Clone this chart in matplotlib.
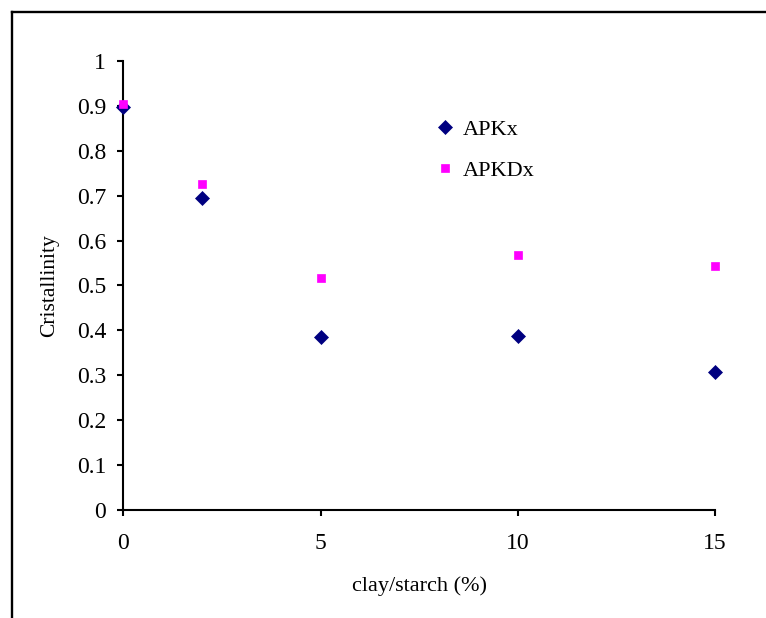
import matplotlib
matplotlib.use("Agg")
import matplotlib.pyplot as plt
from matplotlib.lines import Line2D

# data
clay = [0, 2, 5, 10, 15]
apkx = [0.897, 0.694, 0.386, 0.387, 0.307]
apkdx = [0.904, 0.725, 0.516, 0.569, 0.543]
series_names = ["APKx", "APKDx"]
yticks = [0, 0.1, 0.2, 0.3, 0.4, 0.5, 0.6, 0.7, 0.8, 0.9, 1]
ytick_labels = ["0", "0.1", "0.2", "0.3", "0.4", "0.5", "0.6", "0.7", "0.8", "0.9", "1"]
xticks = [0, 5, 10, 15]

plt.rcParams["font.family"] = ["Liberation Serif", "DejaVu Serif"]

fig = plt.figure(figsize=(7.66, 6.18), dpi=100)
ax = fig.add_axes([0.1612, 0.1748, 0.7722, 0.7265])

ax.plot(clay, apkx, "D", ms=7, color="#000080", mec="#000080", mew=0.5,
        label=series_names[0], zorder=3, clip_on=False)
ax.plot(clay, apkdx, "s", ms=5.5, color="#FF00FF", mec="#FF00FF", mew=0.5,
        label=series_names[1], zorder=4, clip_on=False)

ax.set_xlim(0, 15)
ax.set_ylim(0, 1)
ax.set_xticks(xticks)
ax.set_xticklabels([str(v) for v in xticks])
ax.set_yticks(yticks)
ax.set_yticklabels(ytick_labels)

for side in ("top", "right"):
    ax.spines[side].set_visible(False)
for side in ("left", "bottom"):
    ax.spines[side].set_linewidth(1.5)
ax.tick_params(axis="both", direction="out", length=4.5, width=1.5,
               labelsize=17, colors="black")
ax.tick_params(axis="x", pad=12)
ax.tick_params(axis="y", pad=8)

ax.set_xlabel("clay/starch (%)", fontsize=16)
ax.set_ylabel("Cristallinity", fontsize=15.5)
ax.xaxis.set_label_coords(0.5, -0.147)
ax.yaxis.set_label_coords(-0.108, 0.5)

leg = ax.legend(loc="upper left", bbox_to_anchor=(436 / 766, 1 - 119 / 618),
                bbox_transform=fig.transFigure, frameon=False, fontsize=16,
                handlelength=0.8, handletextpad=0.4, labelspacing=0.95,
                borderpad=0, borderaxespad=0, numpoints=1)

# outer chart-area border (only top and left edges fall inside the image)
fig.add_artist(Line2D([11.5 / 766, 1.0], [1 - 11.5 / 618, 1 - 11.5 / 618],
                      transform=fig.transFigure, color="black", lw=1.7))
fig.add_artist(Line2D([11.5 / 766, 11.5 / 766], [0.0, 1 - 11.5 / 618],
                      transform=fig.transFigure, color="black", lw=1.7))

fig.savefig("out.png", dpi=100)
